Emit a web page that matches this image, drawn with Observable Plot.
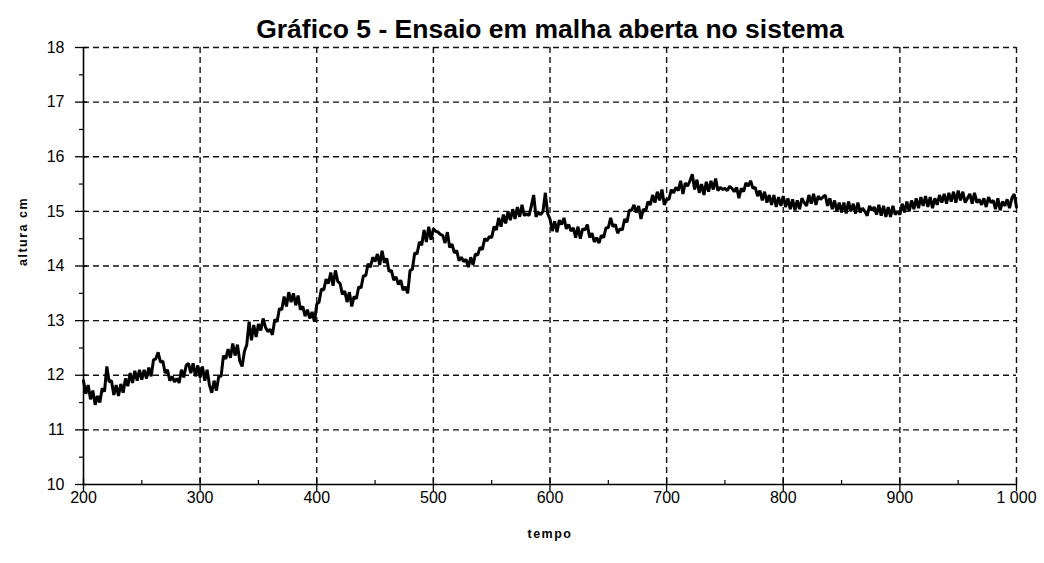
<!DOCTYPE html>
<html>
<head>
<meta charset="utf-8">
<script src="https://cdn.jsdelivr.net/npm/d3@7"></script>
<script src="https://cdn.jsdelivr.net/npm/@observablehq/plot@0.6"></script>
<style>
  body { margin: 0; background: #fff; }
  #chart svg { display: block; }
</style>
</head>
<body>
<div id="chart"></div>
<script>
// Texts
const title = "Gráfico 5 - Ensaio em malha aberta no sistema";
const xLabel = "tempo";
const yLabel = "altura cm";

// Ticks
const xTicks = [200, 300, 400, 500, 600, 700, 800, 900, 1000];
const xTickLabels = ["200", "300", "400", "500", "600", "700", "800", "900", "1 000"];
const xMinor = [250, 350, 450, 550, 650, 750, 850, 950];
const yTicks = [10, 11, 12, 13, 14, 15, 16, 17, 18];
const yTickLabels = ["10", "11", "12", "13", "14", "15", "16", "17", "18"];
const yMinor = [10.5, 11.5, 12.5, 13.5, 14.5, 15.5, 16.5, 17.5];

// Measured height, one sample every 2 time units from t = 200
const tStart = 200;
const tStep = 2;
const altura = [
  11.90, 11.66, 11.82, 11.56, 11.72,  11.46, 11.62, 11.50, 11.76, 11.70,
  12.16, 11.88, 11.90, 11.64, 11.82,  11.62, 11.84, 11.68, 11.94, 11.80,
  12.04, 11.86, 12.08, 11.90, 12.10,  11.92, 12.10, 11.94, 12.14, 11.98,
  12.28, 12.30, 12.42, 12.24, 12.26,  12.04, 12.10, 11.90, 11.98, 11.88,
  11.94, 11.86, 12.10, 11.96, 12.18,  12.22, 12.04, 12.22, 11.98, 12.18,
  11.96, 12.16, 11.90, 12.10, 11.82,  11.68, 11.90, 11.72, 11.98, 11.98,
  12.36, 12.30, 12.48, 12.32, 12.58,  12.36, 12.56, 12.26, 12.16, 12.44,
  12.56, 12.98, 12.64, 12.92, 12.70,  12.94, 12.82, 13.04, 12.88, 12.80,
  12.84, 12.74, 13.02, 12.98, 13.22,  13.20, 13.44, 13.26, 13.52, 13.34,
  13.50, 13.28, 13.46, 13.20, 13.26,  13.08, 13.20, 13.04, 13.16, 12.98,
  13.30, 13.34, 13.58, 13.56, 13.76,  13.68, 13.88, 13.64, 13.92, 13.72,
  13.68, 13.48, 13.54, 13.34, 13.52,  13.26, 13.44, 13.40, 13.62, 13.60,
  13.82, 13.82, 14.04, 13.98, 14.16,  14.08, 14.22, 14.02, 14.28, 14.06,
  14.14, 13.90, 13.92, 13.74, 13.80,  13.66, 13.74, 13.56, 13.62, 13.50,
  13.92, 13.94, 14.24, 14.22, 14.44,  14.38, 14.66, 14.44, 14.72, 14.48,
  14.68, 14.64, 14.62, 14.58, 14.56,  14.42, 14.62, 14.34, 14.40, 14.24,
  14.28, 14.10, 14.16, 14.08, 14.12,  13.98, 14.16, 14.02, 14.22, 14.20,
  14.34, 14.30, 14.50, 14.46, 14.54,  14.52, 14.72, 14.66, 14.88, 14.72,
  14.94, 14.78, 15.00, 14.84, 15.04,  14.86, 15.08, 14.90, 15.12, 14.92,
  14.96, 14.92, 15.10, 15.30, 14.90,  14.98, 14.94, 15.00, 15.34, 14.96,
  14.86, 14.64, 14.82, 14.62, 14.84,  14.76, 14.88, 14.68, 14.76, 14.64,
  14.70, 14.52, 14.72, 14.50, 14.68,  14.66, 14.76, 14.52, 14.60, 14.44,
  14.52, 14.42, 14.56, 14.52, 14.70,  14.70, 14.88, 14.72, 14.76, 14.60,
  14.68, 14.66, 14.86, 14.80, 15.02,  15.02, 15.12, 14.98, 15.10, 14.86,
  15.04, 15.00, 15.18, 15.12, 15.30,  15.16, 15.36, 15.20, 15.40, 15.12,
  15.22, 15.22, 15.40, 15.34, 15.44,  15.38, 15.56, 15.32, 15.52, 15.46,
  15.56, 15.68, 15.40, 15.58, 15.34,  15.50, 15.30, 15.54, 15.36, 15.56,
  15.40, 15.60, 15.38, 15.44, 15.40,  15.42, 15.38, 15.46, 15.42, 15.36,
  15.44, 15.24, 15.42, 15.36, 15.52,  15.46, 15.56, 15.42, 15.44, 15.28,
  15.38, 15.20, 15.36, 15.16, 15.30,  15.12, 15.30, 15.08, 15.26, 15.10,
  15.28, 15.08, 15.24, 15.04, 15.22,  15.02, 15.20, 15.04, 15.24, 15.16,
  15.10, 15.30, 15.14, 15.32, 15.12,  15.28, 15.22, 15.26, 15.30, 15.10,
  15.24, 15.04, 15.20, 15.00, 15.16,  14.98, 15.16, 14.96, 15.18, 15.00,
  15.14, 14.96, 15.16, 14.98, 15.06,  15.00, 14.92, 15.10, 15.02, 15.08,
  14.94, 15.12, 14.92, 15.10, 14.90,  15.08, 14.90, 15.10, 14.94, 15.00,
  14.94, 15.14, 14.98, 15.18, 15.00,  15.20, 15.04, 15.24, 15.06, 15.26,
  15.10, 15.28, 15.08, 15.26, 15.06,  15.24, 15.12, 15.30, 15.16, 15.32,
  15.14, 15.34, 15.18, 15.36, 15.16,  15.38, 15.20, 15.36, 15.16, 15.24,
  15.32, 15.14, 15.34, 15.16, 15.22,  15.12, 15.24, 15.08, 15.26, 15.16,
  15.20, 15.04, 15.24, 15.02, 15.18,  15.10, 15.22, 15.06, 15.24, 15.32,
  15.08
];

const serie = altura.map((v, i) => ({tempo: tStart + i * tStep, altura: v}));

const ink = "#000";
const gridStyle = {stroke: "#111", strokeOpacity: 1, strokeWidth: 1.4, strokeDasharray: "6,4"};

const chart = Plot.plot({
  width: 1044,
  height: 563,
  marginLeft: 83,
  marginRight: 28,
  marginTop: 47,
  marginBottom: 79,
  style: {fontFamily: "'Liberation Sans', Arial, sans-serif", fontSize: "16px", color: ink, background: "#fff"},
  x: {domain: [200, 1000]},
  y: {domain: [10, 18]},
  marks: [
    // dashed grid
    Plot.gridX(xTicks.slice(1), gridStyle),
    Plot.gridY(yTicks.slice(1), gridStyle),
    // measured signal
    Plot.line(serie, {x: "tempo", y: "altura", stroke: ink, strokeWidth: 3, strokeLinejoin: "miter"}),
    // axis lines
    Plot.ruleX([200], {stroke: ink, strokeWidth: 1.6}),
    Plot.ruleY([10], {stroke: ink, strokeWidth: 1.6}),
    // major ticks crossing the axes
    Plot.ruleX(xTicks, {y1: 10, y2: 10, insetTop: -6, insetBottom: -7, stroke: ink, strokeWidth: 1.3}),
    Plot.ruleY(yTicks, {x1: 200, x2: 200, insetLeft: -8, insetRight: -4, stroke: ink, strokeWidth: 1.3}),
    // minor ticks
    Plot.ruleX(xMinor, {y1: 10, y2: 10, insetTop: -4, stroke: ink, strokeWidth: 1.2}),
    Plot.ruleY(yMinor, {x1: 200, x2: 200, insetLeft: -4, stroke: ink, strokeWidth: 1.2}),
    // tick labels
    Plot.axisX(xTicks, {tickSize: 0, tickPadding: 7, tickFormat: (d, i) => xTickLabels[i], label: null, fontSize: 16}),
    Plot.axisY(yTicks, {tickSize: 0, tickPadding: 19, tickFormat: (d, i) => yTickLabels[i], label: null, fontSize: 16}),
    // title and axis names
    Plot.text([title], {text: d => d, frameAnchor: "top", dy: -10, lineAnchor: "bottom", fontSize: 26.5, fontWeight: "bold"}),
    Plot.text([xLabel], {text: d => d, frameAnchor: "bottom", dy: 53, fontSize: 12.5, fontWeight: "bold"}),
    Plot.text([yLabel], {text: d => d, frameAnchor: "left", dx: -61, rotate: -90, fontSize: 12.5, fontWeight: "bold"})
  ]
});

// letter spacing for the axis names
d3.select(chart).selectAll("text")
  .filter(function () { return this.textContent === xLabel || this.textContent === yLabel; })
  .style("letter-spacing", "1.5px");

document.getElementById("chart").appendChild(chart);
</script>
</body>
</html>
